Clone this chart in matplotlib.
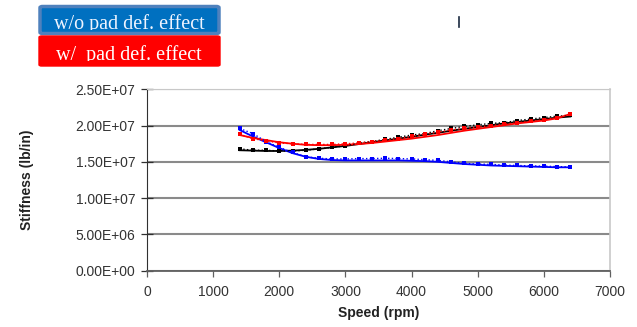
import numpy as np
import matplotlib
matplotlib.use("Agg")
import matplotlib.pyplot as plt
from matplotlib.patches import FancyBboxPatch, Rectangle
from matplotlib.lines import Line2D
from matplotlib.ticker import FuncFormatter

# speeds (rpm)
speed = [1400, 1600, 1800, 2000, 2200, 2400, 2600, 2800, 3000, 3200, 3400, 3600, 3800,
         4000, 4200, 4400, 4600, 4800, 5000, 5200, 5400, 5600, 5800, 6000, 6200, 6400]

# stiffness, units of 1e7 lb/in
black_pts = [1.68, 1.66, 1.66, 1.65, 1.65, 1.66, 1.68, 1.70, 1.72, 1.76, 1.78, 1.81, 1.84,
             1.87, 1.89, 1.93, 1.96, 1.99, 2.01, 2.03, 2.04, 2.07, 2.09, 2.11, 2.13, 2.14]
black_fit = [1.66, 1.655, 1.65, 1.65, 1.655, 1.665, 1.68, 1.70, 1.72, 1.745, 1.77, 1.795, 1.82,
             1.845, 1.875, 1.90, 1.93, 1.955, 1.98, 2.005, 2.03, 2.05, 2.07, 2.09, 2.11, 2.125]
red_pts = [1.88, 1.82, 1.79, 1.76, 1.75, 1.74, 1.74, 1.74, 1.75, 1.76, 1.78, 1.80, 1.82,
           1.85, 1.88, 1.91, 1.94, 1.96, 1.98, 2.00, 2.02, 2.04, 2.06, 2.08, 2.11, 2.16]
red_fit = [1.87, 1.83, 1.80, 1.77, 1.75, 1.735, 1.73, 1.73, 1.735, 1.745, 1.76, 1.78, 1.80,
           1.82, 1.845, 1.87, 1.90, 1.93, 1.955, 1.98, 2.005, 2.03, 2.05, 2.07, 2.10, 2.16]
blue_pts = [1.96, 1.89, 1.78, 1.70, 1.63, 1.57, 1.55, 1.54, 1.54, 1.545, 1.545, 1.55, 1.545,
            1.54, 1.53, 1.52, 1.50, 1.48, 1.47, 1.465, 1.455, 1.45, 1.445, 1.44, 1.435, 1.43]
blue_fit = [1.94, 1.85, 1.77, 1.69, 1.62, 1.57, 1.54, 1.525, 1.52, 1.52, 1.52, 1.52, 1.52,
            1.515, 1.51, 1.50, 1.485, 1.47, 1.46, 1.45, 1.445, 1.44, 1.435, 1.43, 1.425, 1.425]

labels = ["w/o pad def. effect", "w/  pad def. effect"]

W, H = 637, 327
fig = plt.figure(figsize=(W / 100, H / 100), dpi=100)
ax = fig.add_axes([147 / W, 1 - 270.7 / H, (610 - 147) / W, (270.7 - 89.3) / H])

sc = 1e7
for pts, fit, c in [(black_pts, black_fit, "black"),
                    (blue_pts, blue_fit, "#0000ff"),
                    (red_pts, red_fit, "#ff0000")]:
    ax.plot(speed, np.array(fit) * sc, color=c, lw=1.3, zorder=3)
    ax.plot(speed, np.array(pts) * sc, color=c, lw=1.0, ls=":", marker="s", ms=2.5,
            mew=0, zorder=4)

ax.set_xlim(0, 7000)
ax.set_ylim(0, 2.5e7)
ax.set_xticks(range(0, 7001, 1000))
ax.set_yticks(np.arange(0, 2.51e7, 5e6))
ax.yaxis.set_major_formatter(FuncFormatter(lambda v, p: f"{v:.2E}"))
ax.grid(axis="y", color="#8a8a8a", lw=1.5)
ax.set_axisbelow(True)

ax.spines["top"].set_color("#c8c8c8")
ax.spines["top"].set_linewidth(0.8)
ax.spines["right"].set_color("#c8c8c8")
ax.spines["right"].set_linewidth(1.2)
ax.spines["left"].set_color("#303030")
ax.spines["bottom"].set_color("#606060")
ax.spines["bottom"].set_linewidth(1.3)

ax.tick_params(axis="y", direction="inout", length=9, width=0.9, color="#303030",
               labelsize=10, labelcolor="#333333", pad=4)
ax.tick_params(axis="x", direction="out", length=4, width=0.9, color="#606060",
               labelsize=10, labelcolor="#333333", pad=6)
for t in ax.get_xticklabels() + ax.get_yticklabels():
    t.set_fontfamily("Liberation Sans")

ax.set_ylabel("Stiffness (lb/in)", fontsize=10, fontweight="bold", family="Liberation Sans",
              color="#222222", labelpad=30)
ax.set_xlabel("Speed (rpm)", fontsize=10, fontweight="bold", family="Liberation Sans",
              color="#222222", labelpad=5)


def fx(px):
    return px / W


def fy(py):
    return 1 - py / H


# legend boxes
blue_box = FancyBboxPatch((fx(40), fy(33.5)), fx(219) - fx(40), fy(6.5) - fy(33.5),
                          boxstyle="round,pad=0,rounding_size=0.004",
                          transform=fig.transFigure, fc="#0070c0", ec="#4f81bd", lw=2.5)
fig.patches.append(blue_box)
clip_b = Rectangle((fx(40), fy(30)), fx(219) - fx(40), fy(6) - fy(30),
                   transform=fig.transFigure, visible=False)
fig.patches.append(clip_b)
tb = fig.text(fx(129), fy(29.5), labels[0], ha="center", va="baseline", color="#eef4ff",
              fontsize=14.5, family="Liberation Serif")
tb.set_clip_path(clip_b)

red_box = FancyBboxPatch((fx(39), fy(66)), fx(220) - fx(39), fy(36) - fy(66),
                         boxstyle="round,pad=0,rounding_size=0.004",
                         transform=fig.transFigure, fc="#ff0000", ec="#ff0000", lw=1)
fig.patches.append(red_box)
clip_r = Rectangle((fx(39), fy(61)), fx(220) - fx(39), fy(36) - fy(61),
                   transform=fig.transFigure, visible=False)
fig.patches.append(clip_r)
tr = fig.text(fx(129), fy(60), labels[1], ha="center", va="baseline", color="white",
              fontsize=14.5, family="Liberation Serif")
tr.set_clip_path(clip_r)

# small stray cursor mark
fig.add_artist(Line2D([fx(458.5), fx(458.5)], [fy(16.5), fy(26.5)], transform=fig.transFigure,
                      color="#1a2a40", lw=1.2))

fig.savefig("out.png", dpi=100)
